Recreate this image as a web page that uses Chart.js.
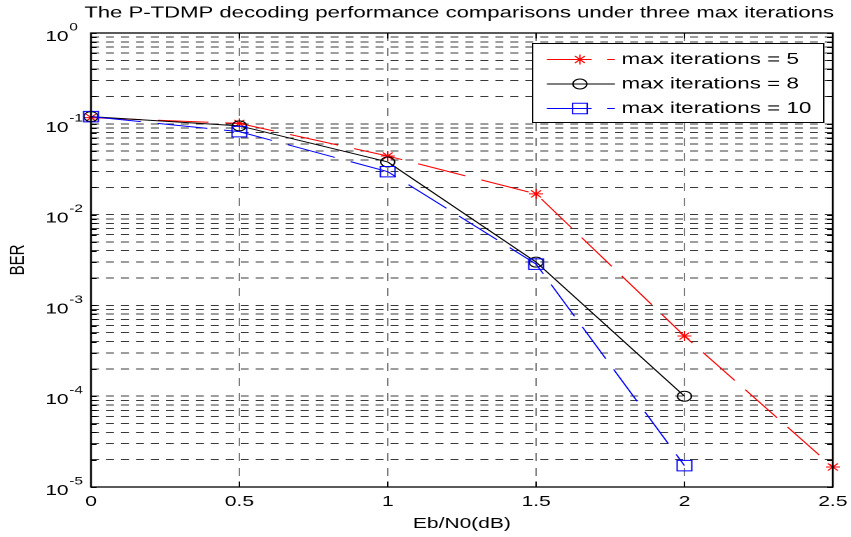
<!DOCTYPE html>
<html><head><meta charset="utf-8">
<script src="https://cdn.jsdelivr.net/npm/chart.js@4.4.0/dist/chart.umd.min.js"></script>
<style>
html,body{margin:0;padding:0;background:#fff;overflow:hidden;width:851px;height:537px;}
#wrap{position:absolute;left:0;top:0;width:608px;height:537px;transform:scaleX(1.3997);transform-origin:0 0;}
canvas{display:block;}
</style></head><body>
<div id="wrap"><canvas id="c" width="608" height="537"></canvas></div>
<script>
const titleText = 'The P-TDMP decoding performance comparisons under three max iterations';
const xLabel = 'Eb/N0(dB)';
const yLabel = 'BER';
const ebn0 = [0, 0.5, 1, 1.5, 2, 2.5];
const seriesNames = ['max iterations = 5', 'max iterations = 8', 'max iterations = 10'];
const berIter5 = [0.117, 0.101, 0.0442, 0.0169, 4.6e-4, 1.66e-5];
const berIter8 = [0.12, 0.095, 0.038, 0.0030, 1.0e-4];
const berIter10 = [0.12, 0.082, 0.0297, 0.00285, 1.72e-5];
const xTicks = [0, 0.5, 1, 1.5, 2, 2.5];
const xTickLabels = ['0', '0.5', '1', '1.5', '2', '2.5'];
const yTickValues = [1, 1e-1, 1e-2, 1e-3, 1e-4, 1e-5];
const yTickExponents = ['0', '-1', '-2', '-3', '-4', '-5'];
const yMinorMantissas = [1, 2, 3, 4, 5, 6, 7, 8, 9];

const FONT = "'Liberation Sans', Arial, Helvetica, sans-serif";

function pts(arr) { return arr.map((v, i) => ({ x: ebn0[i], y: v })); }

const yGridValues = [];
for (let e = -5; e < 0; e++) for (const m of yMinorMantissas) yGridValues.push(m * Math.pow(10, e));
yGridValues.push(1);

const datasets = [
  { label: seriesNames[0], data: pts(berIter5), borderColor: '#ff0000', pointBorderColor: '#ff0000',
    backgroundColor: 'rgba(0,0,0,0)', pointBackgroundColor: 'rgba(0,0,0,0)', borderDash: [36, 12],
    pointStyle: 'star', pointRadius: 5, borderWidth: 1, pointBorderWidth: 1, order: 3, legendDash: [32, 11] },
  { label: seriesNames[1], data: pts(berIter8), borderColor: '#000000', pointBorderColor: '#000000',
    backgroundColor: 'rgba(0,0,0,0)', pointBackgroundColor: 'rgba(0,0,0,0)', borderDash: [],
    pointStyle: 'circle', pointRadius: 5, borderWidth: 1, pointBorderWidth: 1, order: 2, legendDash: [] },
  { label: seriesNames[2], data: pts(berIter10), borderColor: '#0000ff', pointBorderColor: '#0000ff',
    backgroundColor: 'rgba(0,0,0,0)', pointBackgroundColor: 'rgba(0,0,0,0)', borderDash: [36, 12],
    pointStyle: 'rect', pointRadius: 7.4, borderWidth: 1, pointBorderWidth: 1, order: 1, legendDash: [32, 11] }
];

const decor = {
  id: 'decor',
  afterDraw(chart) {
    const ctx = chart.ctx, a = chart.chartArea;
    const xs = chart.scales.x, ys = chart.scales.y;
    ctx.save();
    // inward ticks
    ctx.strokeStyle = '#000'; ctx.lineWidth = 1; ctx.setLineDash([]);
    ctx.beginPath();
    for (const v of yGridValues) {
      const py = Math.round(ys.getPixelForValue(v)) + 0.5;
      ctx.moveTo(a.left, py); ctx.lineTo(a.left + 4, py);
      ctx.moveTo(a.right, py); ctx.lineTo(a.right - 4, py);
    }
    for (const v of xTicks) {
      const px = xs.getPixelForValue(v);
      ctx.moveTo(px, a.bottom); ctx.lineTo(px, a.bottom - 5.5);
      ctx.moveTo(px, a.top); ctx.lineTo(px, a.top + 5.5);
    }
    ctx.stroke();
    // box
    ctx.lineWidth = 1.3;
    ctx.strokeRect(a.left, a.top, a.right - a.left, a.bottom - a.top);
    // y tick labels (10^k)
    ctx.fillStyle = '#000';
    yTickValues.forEach((v, i) => {
      const py = ys.getPixelForValue(v);
      ctx.font = '15px ' + FONT;
      ctx.textAlign = 'right'; ctx.textBaseline = 'alphabetic';
      ctx.fillText('10', 49, py + 8);
      ctx.font = '11px ' + FONT;
      ctx.textAlign = 'left';
      ctx.fillText(yTickExponents[i], 49.5, py - 2.5);
    });
    // title
    ctx.font = '15.8px ' + FONT;
    ctx.textAlign = 'center'; ctx.textBaseline = 'middle';
    ctx.fillText(titleText, (a.left + a.right) / 2 - 2, 13);
    // legend
    const lx0 = 380, ly0 = 43, lw = 208, lh = 79;
    ctx.fillStyle = '#fff';
    ctx.fillRect(lx0, ly0, lw, lh);
    ctx.strokeStyle = '#000'; ctx.lineWidth = 1;
    ctx.strokeRect(lx0 + 0.5, ly0 + 0.5, lw, lh);
    chart.data.datasets.forEach((ds, i) => {
      const ry = 59.5 + i * 24.5;
      ctx.strokeStyle = ds.borderColor; ctx.lineWidth = 1;
      ctx.setLineDash(ds.legendDash);
      ctx.beginPath(); ctx.moveTo(390.7, ry); ctx.lineTo(439.3, ry); ctx.stroke();
      ctx.setLineDash([]);
      ctx.fillStyle = 'rgba(0,0,0,0)';
      Chart.helpers.drawPoint(ctx, { pointStyle: ds.pointStyle, radius: ds.pointRadius, borderWidth: 1, rotation: 0 }, 414.3, ry);
      ctx.fillStyle = '#000';
      ctx.font = '16px ' + FONT;
      ctx.textAlign = 'left'; ctx.textBaseline = 'middle';
      ctx.fillText(ds.label, 444, ry);
    });
    ctx.restore();
  }
};

new Chart(document.getElementById('c'), {
  type: 'line',
  data: { datasets },
  options: {
    responsive: false,
    animation: false,
    devicePixelRatio: 2,
    layout: { padding: { top: 33, right: 13, bottom: 0, left: 0 } },
    elements: { line: { tension: 0 } },
    datasets: { line: { clip: false } },
    plugins: { legend: { display: false }, title: { display: false }, tooltip: { enabled: false } },
    scales: {
      x: {
        type: 'linear', min: 0, max: 2.5,
        afterBuildTicks: s => { s.ticks = xTicks.map(v => ({ value: v })); },
        afterFit: s => { s.height = 50; s.paddingLeft = 0; s.paddingRight = 0; },
        ticks: { display: true, autoSkip: false, maxRotation: 0, padding: 6, color: '#000',
          font: { family: FONT, size: 15 },
          callback: v => xTickLabels[xTicks.indexOf(v)] },
        grid: { drawTicks: false, lineWidth: 1,
          color: c => (c.tick && (c.tick.value === 0 || c.tick.value === 2.5)) ? 'rgba(0,0,0,0)' : '#7a7a7a' },
        border: { display: false, dash: [8, 7] },
        title: { display: true, text: xLabel, color: '#000', font: { family: FONT, size: 15 }, padding: { top: 0, bottom: 4 } }
      },
      y: {
        type: 'logarithmic', min: 1e-5, max: 1,
        afterBuildTicks: s => { s.ticks = yGridValues.map(v => ({ value: v, major: false })); },
        afterFit: s => { s.width = 65; s.paddingTop = 0; s.paddingBottom = 0; },
        ticks: { display: false, autoSkip: false },
        grid: { drawTicks: false, lineWidth: 1, color: '#3a3a3a' },
        border: { display: false, dash: [5.7, 5] },
        title: { display: true, text: yLabel, color: '#000', font: { family: FONT, size: 15 }, padding: { top: 4, bottom: 0 } }
      }
    }
  },
  plugins: [decor]
});
</script>
</body></html>
